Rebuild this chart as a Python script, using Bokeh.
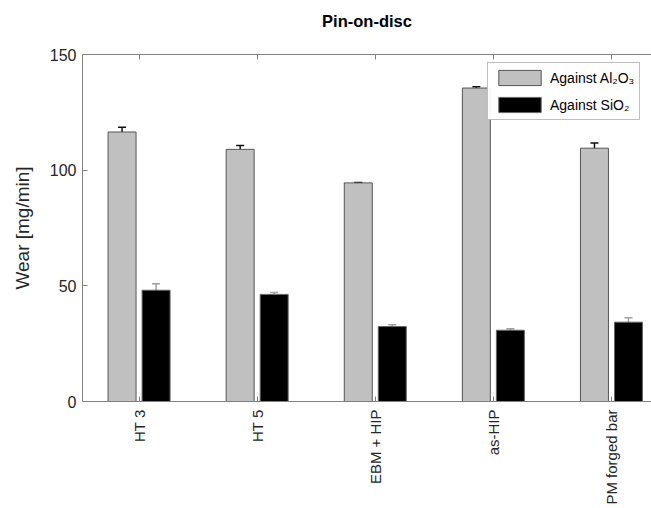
import numpy as np
from math import pi
from bokeh.plotting import figure
from bokeh.models import (ColumnDataSource, Whisker, TeeHead, FixedTicker, LinearAxis,
                          Range1d, Legend, LegendItem, Title)
from bokeh.embed import file_html
from bokeh.resources import INLINE

# ---- data ----
categories = ["HT 3", "HT 5", "EBM + HIP", "as-HIP", "PM forged bar"]
al2o3 = [116.5, 109.0, 94.5, 135.5, 109.5]
al2o3_err = [2.0, 1.7, 0.2, 0.6, 2.2]
sio2 = [48.1, 46.3, 32.4, 30.8, 34.3]
sio2_err = [2.8, 0.8, 0.8, 0.6, 1.9]
y_ticks = [0, 50, 100, 150]

FONT = "Liberation Sans"
pos = [i + 1 for i in range(len(categories))]
off = 0.144
bw = 0.237

src = ColumnDataSource(dict(
    xg=[x - off for x in pos], xs=[x + off for x in pos],
    al=al2o3, al_lo=[v - e for v, e in zip(al2o3, al2o3_err)], al_hi=[v + e for v, e in zip(al2o3, al2o3_err)],
    si=sio2, si_lo=[v - e for v, e in zip(sio2, sio2_err)], si_hi=[v + e for v, e in zip(sio2, sio2_err)],
))

p = figure(width=651, height=508, output_backend="svg", toolbar_location=None,
           x_range=Range1d(0.521, 5.339), y_range=Range1d(0, 150),
           min_border_left=82, min_border_right=0, min_border_top=54, min_border_bottom=107)
p.outline_line_color = None
p.grid.visible = False
p.background_fill_color = "white"
p.border_fill_color = "white"

r1 = p.vbar(x="xg", top="al", width=bw, source=src, fill_color="#c0c0c0", line_color="#555555", line_width=1)
r2 = p.vbar(x="xs", top="si", width=bw, source=src, fill_color="#000000", line_color="#666666", line_width=1)

p.add_layout(Whisker(base="xg", lower="al_lo", upper="al_hi", source=src, line_color="#111111", line_width=1.5,
                     upper_head=TeeHead(size=8, line_color="#111111", line_width=1.5),
                     lower_head=TeeHead(size=8, line_color="#111111", line_width=1.5)))
p.add_layout(Whisker(base="xs", lower="si_lo", upper="si_hi", source=src, line_color="#a0a0a0", line_width=1.5,
                     upper_head=TeeHead(size=8, line_color="#a0a0a0", line_width=1.5),
                     lower_head=TeeHead(size=8, line_color="#a0a0a0", line_width=1.5)))

# axes
AX = "#808080"
TXT = "#262626"
p.xaxis.ticker = FixedTicker(ticks=pos)
p.xaxis.major_label_overrides = {x: c for x, c in zip(pos, categories)}
p.xaxis.major_label_orientation = pi / 2
p.xaxis.major_label_text_font = FONT
p.xaxis.major_label_text_font_size = "15px"
p.xaxis.major_label_text_color = TXT
p.xaxis.major_label_standoff = 8
p.xaxis.major_tick_in = 5
p.xaxis.major_tick_out = 0
p.xaxis.minor_tick_line_color = None
p.xaxis.axis_line_color = AX
p.xaxis.major_tick_line_color = AX

top = LinearAxis(ticker=FixedTicker(ticks=pos), major_label_overrides={x: "" for x in pos},
                 major_label_standoff=0,
                 major_tick_in=5, major_tick_out=0, minor_tick_line_color=None,
                 axis_line_color=AX, major_tick_line_color=AX)
p.add_layout(top, "above")
# empty spacer panel between the top axis and the title
p.add_layout(Title(text=" ", text_font=FONT, text_font_size="16.5px", standoff=0), "above")

p.yaxis.ticker = FixedTicker(ticks=y_ticks)
p.yaxis.major_tick_in = 5
p.yaxis.major_tick_out = 0
p.yaxis.minor_tick_line_color = None
p.yaxis.axis_line_color = AX
p.yaxis.major_tick_line_color = AX
p.yaxis.major_label_text_font = FONT
p.yaxis.major_label_text_font_size = "16px"
p.yaxis.major_label_text_color = TXT
p.yaxis.major_label_standoff = 6
p.yaxis.axis_label = "Wear [mg/min]"
p.yaxis.axis_label_text_font = FONT
p.yaxis.axis_label_text_font_size = "19px"
p.yaxis.axis_label_text_font_style = "normal"
p.yaxis.axis_label_text_color = TXT
p.yaxis.axis_label_standoff = 14

p.title.text = "Pin-on-disc"
p.title.align = "center"
p.title.text_font = FONT
p.title.text_font_size = "16.5px"
p.title.text_font_style = "bold"
p.title.text_color = "#000000"
p.title.standoff = 10

legend = Legend(items=[LegendItem(label="Against Al\u2082O\u2083", renderers=[r1]),
                       LegendItem(label="Against SiO\u2082", renderers=[r2])],
                location=(405, 281), padding=5, spacing=8, margin=0,
                glyph_width=53, glyph_height=19, label_standoff=4,
                label_text_font=FONT, label_text_font_size="14px", label_text_color="#000000",
                border_line_color="#808080", border_line_width=1, background_fill_color="white")
p.add_layout(legend)

open("out.html", "w").write(file_html(p, INLINE))
